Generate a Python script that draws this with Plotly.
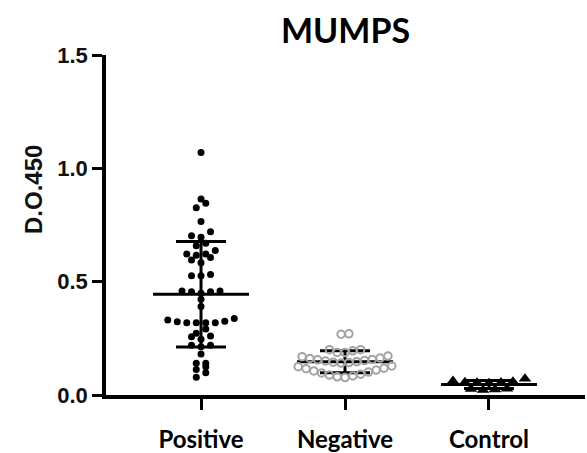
import numpy as np
import plotly.graph_objects as go

# ---------------- data ----------------
categories = ["Positive", "Negative", "Control"]
tick_values_y = [0.0, 0.5, 1.0, 1.5]

positive = [1.07, 0.865, 0.846, 0.826, 0.765, 0.72, 0.703, 0.696, 0.659, 0.669,
            0.637, 0.622, 0.607, 0.617, 0.622, 0.584, 0.596, 0.526, 0.526, 0.532,
            0.459, 0.456, 0.449, 0.456, 0.459, 0.422, 0.39, 0.331, 0.323, 0.319,
            0.319, 0.319, 0.319, 0.325, 0.337, 0.291, 0.272, 0.257, 0.246, 0.26,
            0.22, 0.213, 0.22, 0.181, 0.14, 0.14, 0.125, 0.113, 0.098, 0.078]

negative = [0.27, 0.268,
            0.2, 0.195, 0.187, 0.188, 0.2,
            0.169, 0.163, 0.157, 0.152, 0.147, 0.143, 0.141, 0.145, 0.15, 0.155, 0.161, 0.172,
            0.125, 0.118, 0.11, 0.101, 0.092, 0.084, 0.077, 0.08, 0.088, 0.097, 0.106, 0.116, 0.128]

control = [0.052, 0.054, 0.055, 0.056, 0.058, 0.062, 0.072,
           0.022, 0.024, 0.026, 0.028]

# ---------------- layout geometry ----------------
W, H = 587, 453
ML, MR, MT, MB = 106, 2, 55, 58
XR = [-0.66, 2.667]
YR = [0, 1.5]
px_per_x = (W - ML - MR) / (XR[1] - XR[0])
plot_w, plot_h = W - ML - MR, H - MT - MB


def swarm(values, center, spacing_px, span, gap):
    """Prism-like scatter: group close values into rows, spread each row."""
    vals = sorted(values)
    rows = []
    for v in vals:
        if rows and v - rows[-1][0] <= span and v - rows[-1][-1] <= gap:
            rows[-1].append(v)
        else:
            rows.append([v])
    xs, ys = [], []
    for row in rows:
        n = len(row)
        if n % 2 == 1:
            slots = [0] + [s for k in range(1, n // 2 + 1) for s in (-k, k)]
        else:
            slots = [s for k in range(n // 2) for s in (-(k + 0.5), k + 0.5)]
        for v, s in zip(row, slots):
            xs.append(center + s * spacing_px / px_per_x)
            ys.append(v)
    return xs, ys


def mean_sd_lines(values, center, mean_half_px=48, cap_half_px=25):
    m = float(np.mean(values))
    sd = float(np.std(values, ddof=1))
    hm = mean_half_px / px_per_x
    hc = cap_half_px / px_per_x
    xs = [center - hm, center + hm, None,
          center, center, None,
          center - hc, center + hc, None,
          center - hc, center + hc]
    ys = [m, m, None,
          m - sd, m + sd, None,
          m + sd, m + sd, None,
          m - sd, m - sd]
    return xs, ys


fig = go.Figure()

groups = [
    (positive, 0, dict(symbol="circle", size=7, color="black"), 9.5, 0.026, 0.026),
    (negative, 1, dict(symbol="circle-open", size=7.5, color="#a3a3a3",
                       line=dict(width=2, color="#a3a3a3")), 7.8, 0.06, 0.01),
    (control, 2, dict(symbol="triangle-up", size=11, color="black"), 12, 0.03, 0.02),
]

for vals, c, marker, sp, span, gap in groups:
    lx, ly = mean_sd_lines(vals, c)
    fig.add_trace(go.Scatter(x=lx, y=ly, mode="lines",
                             line=dict(color="black", width=3),
                             hoverinfo="skip", showlegend=False, cliponaxis=False))

for vals, c, marker, sp, span, gap in groups:
    sx, sy = swarm(vals, c, sp, span, gap)
    fig.add_trace(go.Scatter(x=sx, y=sy, mode="markers", marker=marker,
                             showlegend=False, cliponaxis=False))

# y-axis title placed like the reference (left of the axis, above centre)
fig.add_annotation(text="D.O.450", textangle=-90, showarrow=False,
                   xref="paper", yref="paper",
                   x=(33 - ML) / plot_w, y=(H - MB - 190) / plot_h,
                   xanchor="center", yanchor="middle",
                   font=dict(family="Liberation Sans", size=24, color="#111111",
                             weight="bold"))

fig.update_layout(
    width=W, height=H,
    margin=dict(l=ML, r=MR, t=MT, b=MB, pad=0, autoexpand=False),
    paper_bgcolor="white", plot_bgcolor="white",
    title=dict(text="MUMPS", x=0.5, xref="paper", xanchor="center",
               y=1 - 31 / H, yref="container", yanchor="middle", automargin=False,
               font=dict(family="Lato", size=34, color="black", weight="bold")),
    xaxis=dict(range=XR, tickmode="array", tickvals=[0, 1, 2], ticktext=categories,
               showline=True, linecolor="black", linewidth=3.5, automargin=False,
               ticks="outside", ticklen=11, tickwidth=3, tickcolor="black",
               showgrid=False, zeroline=False, ticklabelstandoff=9,
               tickfont=dict(family="Lato", size=24, color="black", weight="bold")),
    yaxis=dict(range=YR, tickmode="array", tickvals=tick_values_y, tickformat=".1f",
               showline=True, linecolor="black", linewidth=3.5, automargin=False,
               ticks="outside", ticklen=10, tickwidth=3, tickcolor="black",
               showgrid=False, zeroline=False, ticklabelstandoff=0,
               tickfont=dict(family="Liberation Sans", size=22, color="#111111",
                             weight="bold")),
)

fig.write_html("out.html")
